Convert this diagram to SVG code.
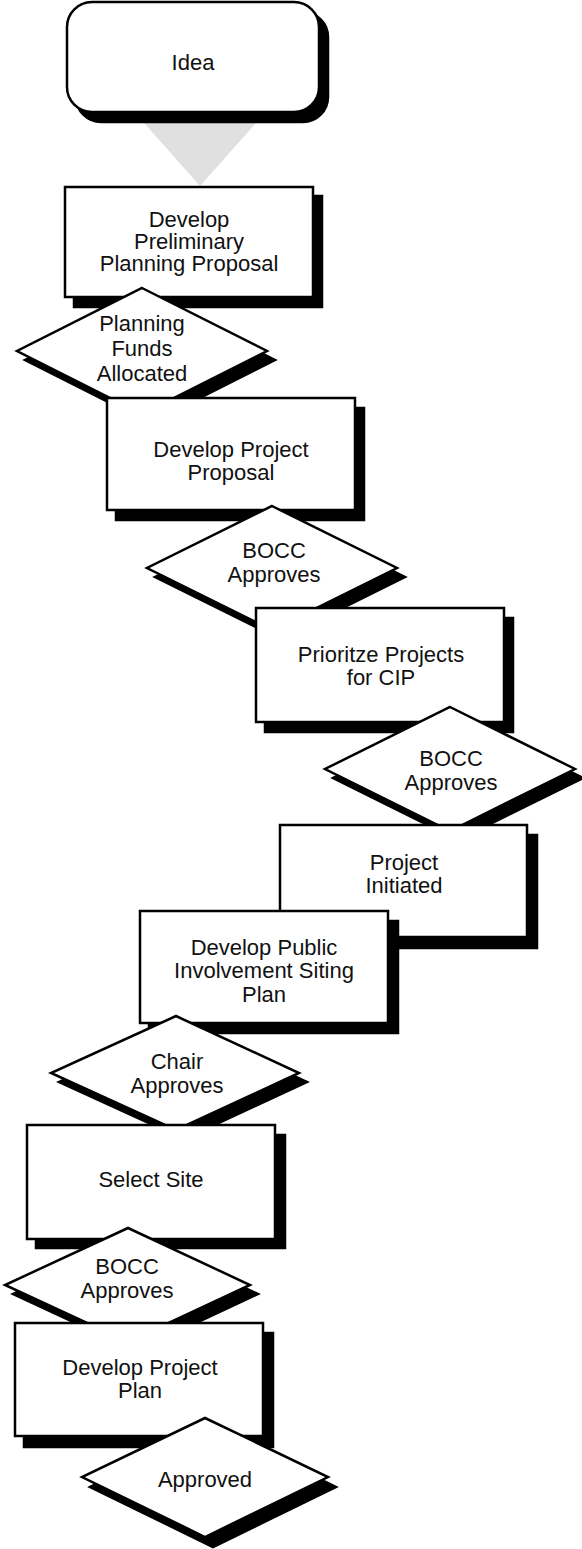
<svg xmlns="http://www.w3.org/2000/svg" width="582" height="1549" viewBox="0 0 582 1549">
<style>
.bg{fill:#ffffff}
.shape{fill:#ffffff;stroke:#000000;stroke-width:2.5;stroke-linejoin:miter}
.shadow{fill:#000000;stroke:#000000;stroke-width:2.5}
.lbl{font-family:"Liberation Sans",Arial,sans-serif;font-size:22px;fill:#111111;text-anchor:middle}
.conn{fill:#e0e0e0;stroke:none}
</style>
<rect class="bg" x="0" y="0" width="582" height="1549"/>
<g id="connectors">
<polygon class="conn" points="137,115 263,115 200,186"/>
</g>
<g id="n-idea">
<rect class="shadow" x="76" y="12" width="252" height="110" rx="25" ry="25"/>
<rect class="shape" x="67" y="2" width="252" height="110" rx="25" ry="25" stroke-width="3"/>
<text class="lbl" x="193" y="70">Idea</text>
</g>
<g id="n-prelim">
<rect class="shadow" x="74" y="196" width="248" height="111"/>
<rect class="shape" x="65" y="187" width="248" height="110"/>
<text class="lbl" x="189" y="227">Develop</text>
<text class="lbl" x="189" y="249">Preliminary</text>
<text class="lbl" x="189" y="271">Planning Proposal</text>
</g>
<g id="d-funds">
<polygon class="shadow" points="150,297 275,360 150,423 25,360"/>
<polygon class="shape" points="142,288 267,351 142,414 17,351"/>
<text class="lbl" x="142" y="331">Planning</text>
<text class="lbl" x="142" y="356">Funds</text>
<text class="lbl" x="142" y="381">Allocated</text>
</g>
<g id="n-proposal">
<rect class="shadow" x="116" y="408" width="248" height="112"/>
<rect class="shape" x="107" y="398" width="248" height="112"/>
<text class="lbl" x="231" y="457">Develop Project</text>
<text class="lbl" x="231" y="480">Proposal</text>
</g>
<g id="d-bocc1">
<polygon class="shadow" points="280,515 405,577 280,639 155,577"/>
<polygon class="shape" points="272,506 397,568 272,630 147,568"/>
<text class="lbl" x="274" y="558">BOCC</text>
<text class="lbl" x="274" y="582">Approves</text>
</g>
<g id="n-cip">
<rect class="shadow" x="265" y="618" width="248" height="114"/>
<rect class="shape" x="256" y="608" width="248" height="114"/>
<text class="lbl" x="381" y="662">Prioritze Projects</text>
<text class="lbl" x="381" y="685">for CIP</text>
</g>
<g id="d-bocc2">
<polygon class="shadow" points="458,716 583,778 458,840 333,778"/>
<polygon class="shape" points="450,707 575,769 450,831 325,769"/>
<text class="lbl" x="451" y="766">BOCC</text>
<text class="lbl" x="451" y="790">Approves</text>
</g>
<g id="n-initiated">
<rect class="shadow" x="289" y="835" width="248" height="113"/>
<rect class="shape" x="280" y="825" width="247" height="112"/>
<text class="lbl" x="404" y="870">Project</text>
<text class="lbl" x="404" y="893">Initiated</text>
</g>
<g id="n-siting">
<rect class="shadow" x="149" y="921" width="249" height="112"/>
<rect class="shape" x="140" y="911" width="248" height="112"/>
<text class="lbl" x="264" y="955">Develop Public</text>
<text class="lbl" x="264" y="978">Involvement Siting</text>
<text class="lbl" x="264" y="1002">Plan</text>
</g>
<g id="d-chair">
<polygon class="shadow" points="184,1025 307,1082 184,1139 59,1082"/>
<polygon class="shape" points="176,1016 299,1073 176,1130 51,1073"/>
<text class="lbl" x="177" y="1069">Chair</text>
<text class="lbl" x="177" y="1093">Approves</text>
</g>
<g id="n-site">
<rect class="shadow" x="36" y="1135" width="249" height="113"/>
<rect class="shape" x="27" y="1125" width="248" height="114"/>
<text class="lbl" x="151" y="1187">Select Site</text>
</g>
<g id="d-bocc3">
<polygon class="shadow" points="136,1237 258,1294 136,1351 13,1294"/>
<polygon class="shape" points="128,1228 250,1285 128,1342 5,1285"/>
<text class="lbl" x="127" y="1274">BOCC</text>
<text class="lbl" x="127" y="1298">Approves</text>
</g>
<g id="n-plan">
<rect class="shadow" x="24" y="1333" width="249" height="114"/>
<rect class="shape" x="15" y="1323" width="248" height="113"/>
<text class="lbl" x="140" y="1375">Develop Project</text>
<text class="lbl" x="140" y="1398">Plan</text>
</g>
<g id="d-approved">
<polygon class="shadow" points="213,1427 336,1487 213,1547 90,1487"/>
<polygon class="shape" points="205,1418 328,1477 205,1537 82,1477"/>
<text class="lbl" x="205" y="1487">Approved</text>
</g>
</svg>
